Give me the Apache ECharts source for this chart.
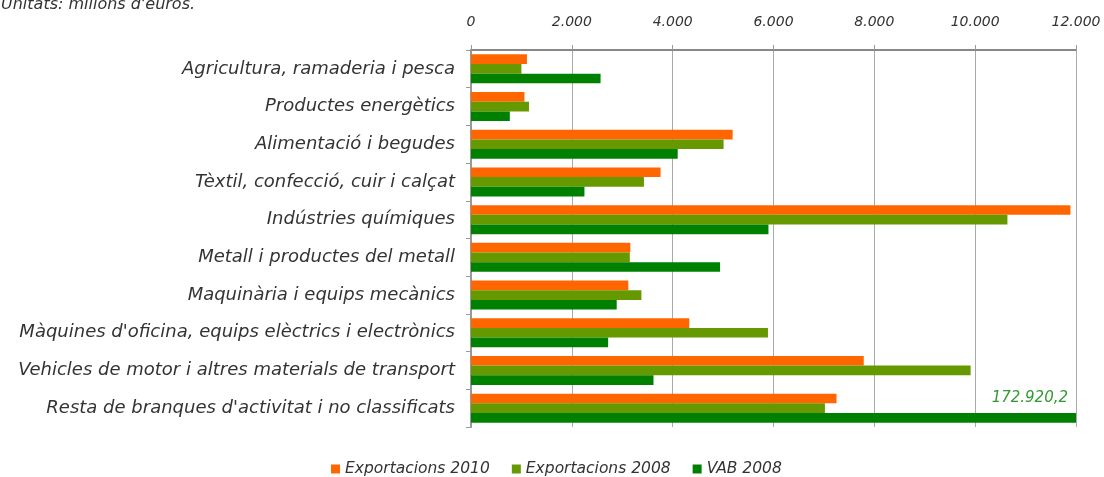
<!DOCTYPE html>
<html>
<head>
<meta charset="utf-8">
<script src="https://cdn.jsdelivr.net/npm/echarts@6/dist/echarts.min.js"></script>
<style>
  html, body { margin: 0; padding: 0; background: #fff; }
  #chart { width: 1104px; height: 477px; }
</style>
</head>
<body>
<div id="chart"></div>
<script>
// Unitats: milions d'euros
const categories = [
    "Agricultura, ramaderia i pesca",
    "Productes energètics",
    "Alimentació i begudes",
    "Tèxtil, confecció, cuir i calçat",
    "Indústries químiques",
    "Metall i productes del metall",
    "Maquinària i equips mecànics",
    "Màquines d'oficina, equips elèctrics i electrònics",
    "Vehicles de motor i altres materials de transport",
    "Resta de branques d'activitat i no classificats"
];
const export2010 = [1110, 1060, 5190, 3760, 11890, 3160, 3120, 4330, 7790, 7250];
const export2008 = [1000, 1150, 5010, 3430, 10640, 3150, 3380, 5890, 9910, 7020];
const vab2008 = [2570, 770, 4100, 2250, 5900, 4940, 2890, 2720, 3620, 172920.2];
const seriesNames = ["Exportacions 2010", "Exportacions 2008", "VAB 2008"];
const colors = ["#ff6600", "#669900", "#008000"];

const fontFamily = "'DejaVu Sans', sans-serif";

// 12000 -> "12.000", 172920.2 -> "172.920,2"
function fmt(v) {
    let parts = String(v).split(".");
    let ent = parts[0].replace(/\B(?=(\d{3})+(?!\d))/g, ".");
    return parts.length > 1 ? ent + "," + parts[1] : ent;
}

let chart = echarts.init(document.getElementById("chart"));
let barStyle = (i) => ({
    type: "bar",
    name: seriesNames[i],
    barGap: "0%",
    barCategoryGap: "23%",
    itemStyle: {color: colors[i]}
});

chart.setOption({
    animation: false,
    backgroundColor: "#fff",
    textStyle: {fontFamily: fontFamily},
    title: {
        text: "Unitats: milions d'euros.",
        left: -4, top: -8,
        textStyle: {fontSize: 16, fontStyle: "italic", fontWeight: "normal", color: "#333", fontFamily: fontFamily}
    },
    grid: {left: 471, right: 28, top: 50, bottom: 50, containLabel: false},
    legend: {
        top: 456,
        left: 326,
        itemWidth: 9, itemHeight: 9, itemGap: 22,
        icon: "rect",
        textStyle: {fontSize: 15.5, fontStyle: "italic", color: "#333", fontFamily: fontFamily},
        data: seriesNames
    },
    xAxis: {
        type: "value",
        position: "top",
        min: 0, max: 12000, interval: 2000,
        axisLine: {show: true, lineStyle: {color: "#888", width: 2}},
        axisTick: {show: true, length: 5, lineStyle: {color: "#999"}},
        splitLine: {show: true, lineStyle: {color: "#aaa", width: 1}},
        axisLabel: {
            formatter: v => fmt(v),
            fontSize: 14, fontStyle: "italic", color: "#333", margin: 21
        }
    },
    yAxis: {
        type: "category",
        inverse: true,
        data: categories,
        axisLine: {show: true, lineStyle: {color: "#999", width: 2}},
        axisTick: {show: true, length: 5, lineStyle: {color: "#999"}},
        axisLabel: {fontSize: 18, fontStyle: "italic", color: "#333", margin: 16}
    },
    series: [
        Object.assign(barStyle(0), {data: export2010}),
        Object.assign(barStyle(1), {data: export2008}),
        Object.assign(barStyle(2), {
            data: vab2008.map((v, i) => i === vab2008.length - 1 ? {
                value: v,
                label: {
                    show: true,
                    position: "insideRight",
                    distance: 8,
                    offset: [0, -20],
                    formatter: p => fmt(p.value),
                    fontSize: 15, fontStyle: "italic", color: "#339933"
                }
            } : v)
        })
    ]
});
</script>
</body>
</html>
